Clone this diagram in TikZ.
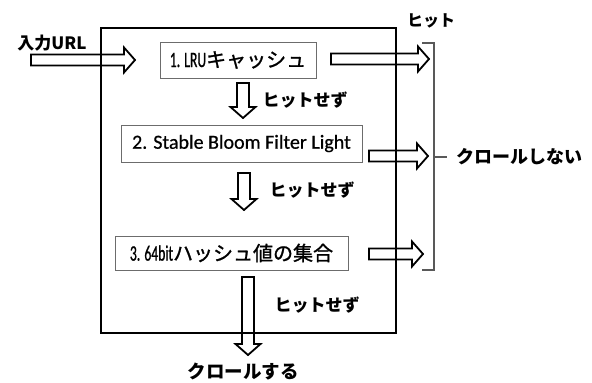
\documentclass[tikz,border=0pt]{standalone}
\usepackage{fontspec}
\setmainfont{Carlito}[FakeBold=0.6]
\newfontfamily\jp{Noto Sans CJK JP}
\newfontfamily\jpm{Noto Sans CJK JP}[FakeBold=1.2]
\newfontfamily\latc{Carlito}[FakeStretch=0.62,FakeBold=0.8]
\newcommand\fsz[1]{\fontsize{#1}{#1}\selectfont}
% horizontal block arrow: x1, x2, y
\newcommand\HArr[3]{\draw[blockarrow] (#1,#3-5.5) -- (#2-11,#3-5.5) -- (#2-11,#3-12.5) -- (#2,#3) -- (#2-11,#3+12.5) -- (#2-11,#3+5.5) -- (#1,#3+5.5) -- cycle;}
% vertical block arrow: x, y1, y2
\newcommand\VArr[3]{\draw[blockarrow] (#1-6,#2) -- (#1+6,#2) -- (#1+6,#3-11) -- (#1+12.5,#3-11) -- (#1,#3) -- (#1-12.5,#3-11) -- (#1-6,#3-11) -- cycle;}
\begin{document}
\begin{tikzpicture}[x=1pt,y=-1pt,
  blockarrow/.style={draw=black,line width=1.8pt,fill=white,line join=miter},
  procbox/.style={draw=gray!85!black,line width=0.8pt,inner sep=0pt,anchor=center},
  frame/.style={draw=black,line width=1.8pt,inner sep=0pt},
  lbl/.style={inner sep=0pt,font=\jp\bfseries\fsz{17}},
  brace/.style={draw=gray!70!black,line width=1.1pt}]
\useasboundingbox (0,0) rectangle (592,383);
\fill[white] (0,0) rectangle (592,383);
% block arrows
\HArr{31}{135}{60}
\HArr{331}{429}{59}
\HArr{369}{428}{156}
\HArr{369}{423}{254}
\VArr{243}{83}{118}
\VArr{244}{173}{210}
\VArr{248}{277}{355}
% outer frame
\node[frame,minimum width=295pt,minimum height=305pt] (frame) at (248.5,180.5) {};
% process boxes
\node[procbox,minimum width=156pt,minimum height=36pt,font=\fsz{20}] (b1) at (238,60)
  {{\latc\fsz{22}1. LRU}{\jpm キャッシュ}};
\node[procbox,minimum width=241pt,minimum height=37pt,font=\fsz{20}] (b2) at (241.5,143.5)
  {2. Stable Bloom Filter Light};
\node[procbox,minimum width=233pt,minimum height=34pt,font=\fsz{20}] (b3) at (231.5,253)
  {{\latc\fsz{22}3. 64bit}{\jpm ハッシュ値の集合}};
% labels
\node[lbl] (lin) at (52,43) {入力URL};
\node[lbl] (l1) at (305,100) {ヒットせず};
\node[lbl] (l2) at (312,190) {ヒットせず};
\node[lbl] (l3) at (317,305) {ヒットせず};
\node[lbl,font=\jp\bfseries\fsz{18.5}] (lcr) at (243,372) {クロールする};
\node[lbl,font=\jp\bfseries\fsz{16}] (lhit) at (431,21) {ヒット};
\node[lbl,font=\jp\bfseries\fsz{18}] (lno) at (519,157) {クロールしない};
% brace
\coordinate (bt) at (422,43);
\coordinate (bb) at (422,270);
\coordinate (bm) at (434,157);
\coordinate (bn) at (447,157);
\draw[brace] (bt) -- (434,43) -- (434,270) -- (bb);
\draw[brace] (bm) -- (bn);
\end{tikzpicture}
\end{document}
